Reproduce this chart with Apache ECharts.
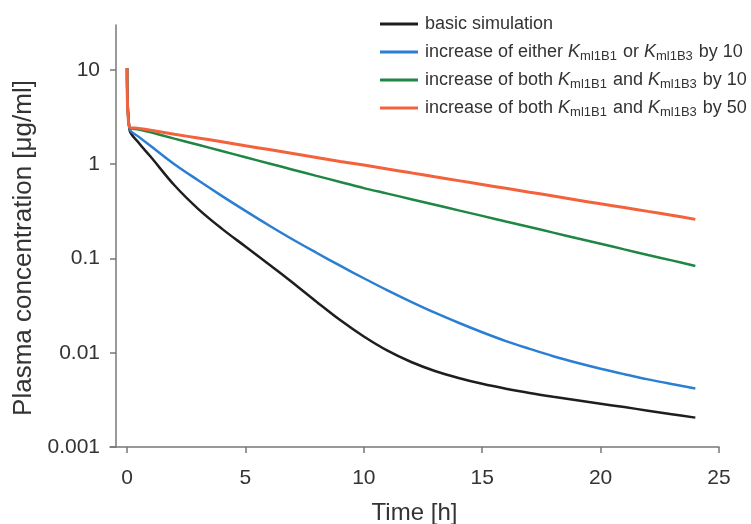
<!DOCTYPE html>
<html>
<head>
<meta charset="utf-8">
<script src="https://cdn.jsdelivr.net/npm/echarts@6/dist/echarts.min.js"></script>
<style>
html, body { margin: 0; padding: 0; background: #fff; }
#chart { width: 751px; height: 524px; }
</style>
</head>
<body>
<div id="chart"></div>
<script>
// time points [h]
var times = [0, 0.1, 0.5, 1, 2, 3, 4, 5, 6, 7, 8, 9, 10, 11, 12, 13, 14, 15, 16, 17, 18, 19, 20, 21, 22, 23, 24];

// plasma concentration [ug/ml]
var basicSim = [10.5, 2.35, 1.68, 1.2, 0.598, 0.3365, 0.2075, 0.134, 0.0865, 0.0552, 0.0348, 0.0222, 0.01486, 0.01052, 0.00798, 0.00641, 0.0054, 0.00468, 0.00415, 0.00374, 0.00341, 0.00313, 0.00288, 0.00265, 0.00243, 0.00223, 0.00205];
var eitherBy10 = [10.5, 2.4, 1.95, 1.56, 1.0, 0.676, 0.462, 0.32, 0.224, 0.159, 0.115, 0.0838, 0.0617, 0.0459, 0.0347, 0.0266, 0.0208, 0.0165, 0.0133, 0.011, 0.00918, 0.00782, 0.00676, 0.00592, 0.00522, 0.00466, 0.00418];
var bothBy10 = [10.5, 2.45, 2.34, 2.18, 1.87, 1.61, 1.38, 1.186, 1.019, 0.875, 0.753, 0.649, 0.558, 0.488, 0.426, 0.372, 0.324, 0.283, 0.247, 0.216, 0.188, 0.164, 0.1435, 0.125, 0.109, 0.0955, 0.0834];
var bothBy50 = [10.5, 2.48, 2.4, 2.29, 2.08, 1.9, 1.73, 1.57, 1.43, 1.3, 1.18, 1.07, 0.98, 0.89, 0.81, 0.736, 0.67, 0.61, 0.555, 0.505, 0.46, 0.417, 0.38, 0.347, 0.316, 0.288, 0.26];

var xTicks = [0, 5, 10, 15, 20, 25];
var yTicks = [0.001, 0.01, 0.1, 1, 10];
var yTickLabels = ['0.001', '0.01', '0.1', '1', '10'];

var names = ['basic', 'either10', 'both10', 'both50'];
var legendText = {
	basic: 'basic simulation',
	either10: 'increase of either {k|K}{s|ml1B1} or {k|K}{s|ml1B3} by 10',
	both10: 'increase of both {k|K}{s|ml1B1} and {k|K}{s|ml1B3} by 10',
	both50: 'increase of both {k|K}{s|ml1B1} and {k|K}{s|ml1B3} by 50'
};
var colors = ['#1e1e1e', '#2b7fd3', '#1f8645', '#f4623b'];

function pairs(vals) {
	var out = [];
	for (var i = 0; i < times.length; i++) {
		out.push([times[i], vals[i]]);
	}
	return out;
}

var allData = [basicSim, eitherBy10, bothBy10, bothBy50];
var series = [];
for (var i = 0; i < names.length; i++) {
	series.push({
		name: names[i],
		type: 'line',
		data: pairs(allData[i]),
		showSymbol: false,
		symbol: 'none',
		smooth: 0.35,
		lineStyle: { width: i == 3 ? 3 : 2.5, color: colors[i] },
		itemStyle: { color: colors[i] },
		z: 2 + i
	});
}

var axisGray = '#777777';
var textGray = '#333333';

var option = {
	animation: false,
	color: colors,
	grid: {
		left: 110,
		right: 32,
		top: 25,
		bottom: 77,
		containLabel: false,
		outerBoundsMode: 'none'
	},
	legend: {
		orient: 'vertical',
		left: 375,
		top: 8,
		itemWidth: 38,
		itemHeight: 3,
		itemGap: 6,
		icon: 'rect',
		data: names,
		formatter: function (name) {
			return legendText[name];
		},
		textStyle: {
			color: textGray,
			fontFamily: 'Liberation Sans',
			fontSize: 18,
			padding: [0, 0, 0, 2],
			lineHeight: 22,
			rich: {
				k: { fontSize: 18, fontStyle: 'italic', fontFamily: 'Liberation Sans', color: textGray, lineHeight: 22 },
				s: { fontSize: 13, fontFamily: 'Liberation Sans', color: textGray, lineHeight: 13, verticalAlign: 'bottom', padding: [0, 1, 0, 0] }
			}
		}
	},
	xAxis: {
		type: 'value',
		min: -0.72,
		max: 25,
		name: 'Time [h]',
		nameLocation: 'middle',
		nameGap: 54,
		nameTextStyle: { color: textGray, fontSize: 24, fontFamily: 'Liberation Sans' },
		axisLine: { show: true, onZero: false, lineStyle: { color: axisGray, width: 1.5 } },
		axisTick: { show: true, length: 6, customValues: xTicks, lineStyle: { color: axisGray, width: 1.5 } },
		axisLabel: { customValues: xTicks, color: textGray, fontSize: 21, fontFamily: 'Liberation Sans', margin: 21 },
		splitLine: { show: false }
	},
	yAxis: {
		type: 'log',
		logBase: 10,
		min: 0.001,
		max: 30,
		offset: -6,
		name: 'Plasma concentration [\u03bcg/ml]',
		nameLocation: 'middle',
		nameGap: 78,
		nameTextStyle: { color: textGray, fontSize: 26, fontFamily: 'Liberation Sans', padding: [0, 24, 0, 0] },
		axisLine: { show: true, onZero: false, lineStyle: { color: axisGray, width: 1.5 } },
		axisTick: { show: true, length: 6, customValues: yTicks, lineStyle: { color: axisGray, width: 1.5 } },
		axisLabel: {
			customValues: yTicks,
			color: textGray,
			fontSize: 21,
			fontFamily: 'Liberation Sans',
			margin: 16,
			formatter: function (v) {
				for (var j = 0; j < yTicks.length; j++) {
					if (Math.abs(Math.log10(v) - Math.log10(yTicks[j])) < 1e-6) return yTickLabels[j];
				}
				return '';
			}
		},
		splitLine: { show: false }
	},
	series: series
};

var chart = echarts.init(document.getElementById('chart'));
chart.setOption(option);
</script>
</body>
</html>
